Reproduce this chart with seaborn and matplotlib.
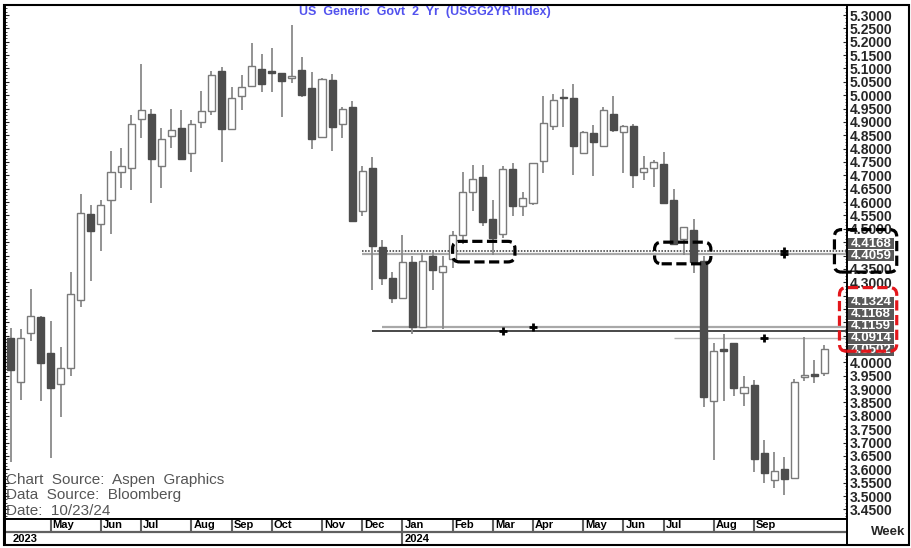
import numpy as np
import pandas as pd
import matplotlib
matplotlib.use("Agg")
import matplotlib.pyplot as plt
import seaborn as sns
from matplotlib.patches import FancyBboxPatch, Rectangle

# weekly candles, bars dated on the Monday
first_week = "2023-04-03"

opens = [4.090, 3.927, 4.111, 4.171, 4.035, 3.921, 3.978, 4.232, 4.556, 4.518,
         4.609, 4.711, 4.727, 4.911, 4.931, 4.736, 4.848, 4.878, 4.784, 4.901,
         4.942, 5.092, 4.873, 4.998, 5.036, 5.098, 5.089, 5.082, 5.064, 5.094,
         5.028, 4.845, 5.058, 4.892, 4.956, 4.566, 4.729, 4.433, 4.315, 4.241,
         4.374, 4.134, 4.397, 4.337, 4.388, 4.475, 4.637, 4.692, 4.537, 4.480,
         4.725, 4.585, 4.597, 4.755, 4.886, 4.991, 4.990, 4.784, 4.857, 4.810,
         4.928, 4.863, 4.886, 4.713, 4.726, 4.741, 4.609, 4.461, 4.496, 4.378,
         3.854, 4.052, 4.071, 3.885, 3.915, 3.661, 3.561, 3.600, 3.567, 3.947,
         3.955, 3.961]
highs = [4.127, 4.124, 4.276, 4.175, 4.155, 4.058, 4.340, 4.632, 4.590, 4.607,
         4.791, 4.804, 4.927, 5.117, 4.950, 4.876, 4.950, 4.943, 4.909, 5.017,
         5.089, 5.105, 5.032, 5.074, 5.197, 5.155, 5.178, 5.082, 5.261, 5.143,
         5.087, 5.064, 5.079, 4.956, 4.978, 4.734, 4.767, 4.457, 4.340, 4.477,
         4.397, 4.410, 4.414, 4.397, 4.492, 4.713, 4.739, 4.739, 4.607, 4.734,
         4.746, 4.636, 4.746, 4.998, 5.005, 5.023, 5.041, 4.867, 4.889, 4.956,
         4.997, 4.889, 4.892, 4.772, 4.759, 4.788, 4.649, 4.505, 4.537, 4.397,
         4.071, 4.105, 4.071, 3.950, 3.936, 3.711, 3.665, 3.645, 3.939, 4.095,
         4.010, 4.066]
lows = [3.629, 3.860, 4.080, 3.855, 3.641, 3.796, 3.949, 4.209, 4.304, 4.416,
        4.482, 4.651, 4.645, 4.838, 4.598, 4.651, 4.804, 4.759, 4.711, 4.878,
        4.924, 4.749, 4.873, 4.943, 5.036, 5.011, 5.011, 4.918, 5.045, 4.994,
        4.797, 4.845, 4.791, 4.838, 4.530, 4.548, 4.270, 4.289, 4.222, 4.241,
        4.108, 4.134, 4.270, 4.124, 4.353, 4.442, 4.566, 4.511, 4.403, 4.467,
        4.547, 4.547, 4.590, 4.708, 4.871, 4.880, 4.702, 4.784, 4.696, 4.810,
        4.861, 4.708, 4.651, 4.683, 4.655, 4.594, 4.442, 4.403, 4.334, 3.832,
        3.635, 3.857, 3.876, 3.837, 3.590, 3.548, 3.529, 3.502, 3.567, 3.931,
        3.922, 3.951]
closes = [3.972, 4.092, 4.175, 3.997, 3.904, 3.978, 4.257, 4.558, 4.492, 4.588,
          4.711, 4.736, 4.892, 4.943, 4.763, 4.835, 4.871, 4.762, 4.892, 4.942,
          5.077, 4.873, 4.988, 5.032, 5.111, 5.041, 5.082, 5.054, 5.070, 5.000,
          4.835, 5.061, 4.882, 4.947, 4.530, 4.717, 4.437, 4.315, 4.241, 4.374,
          4.134, 4.381, 4.344, 4.359, 4.475, 4.637, 4.685, 4.525, 4.467, 4.725,
          4.585, 4.616, 4.746, 4.895, 4.981, 4.988, 4.810, 4.863, 4.823, 4.943,
          4.870, 4.884, 4.701, 4.729, 4.749, 4.597, 4.442, 4.505, 4.376, 3.870,
          4.044, 4.044, 3.906, 3.908, 3.640, 3.587, 3.593, 3.563, 3.926, 3.953,
          3.948, 4.0502]

# horizontal levels and the week each one starts from
black_levels = [4.4168, 4.4059]
black_from = [35, 35]
red_levels = [4.1324, 4.1168, 4.1159, 4.0914]
red_from = [37, 36, 36, 66]
last_price = 4.0502

cross_week = [77, 77, 49, 52, 75]
cross_level = [4.4168, 4.4059, 4.1168, 4.1324, 4.0914]

title = "US  Generic  Govt  2  Yr  (USGG2YR'Index)"
source_lines = ["Chart  Source:  Aspen  Graphics", "Data  Source:  Bloomberg", "Date:  10/23/24"]

n = len(opens)
dates = pd.date_range(first_week, periods=n, freq="W-MON")
df = pd.DataFrame({"date": dates, "open": opens, "high": highs, "low": lows, "close": closes})
df["x"] = np.arange(n)
df["up"] = df["close"] >= df["open"]

sns.set_theme(style="white")
plt.rcParams["font.family"] = ["Liberation Sans", "DejaVu Sans"]

W, H = 911, 548
fig = plt.figure(figsize=(W / 100, H / 100), dpi=100)
ax = fig.add_axes([5 / W, 1 - 519 / H, (847 - 5) / W, (519 - 5) / H])
ax.set_xlim(-0.55, 83.25)
ax.set_ylim(3.414, 5.3375)
ypx = (ax.get_ylim()[1] - ax.get_ylim()[0]) / (519 - 5)   # data units per pixel
xpx = (ax.get_xlim()[1] - ax.get_xlim()[0]) / (847 - 5)

# candles
ax.vlines(df["x"], df["low"], df["high"], color="#8a8a8a", lw=1.3, zorder=2)
body_lo = df[["open", "close"]].min(axis=1)
body_h = (df["close"] - df["open"]).abs().clip(lower=0.004)
fills = np.where(df["up"], "white", "#4d4d4d")
edges = np.where(df["up"], "#7a7a7a", "#4d4d4d")
ax.bar(df["x"], body_h, bottom=body_lo, width=0.7, color=fills, edgecolor=edges, lw=1, zorder=3)

# level lines
xr = ax.get_xlim()[1]
ax.hlines(black_levels[0], black_from[0], xr, color="#333333", lw=1.1, ls=(0, (1, 1)), zorder=1)
ax.hlines(black_levels[1], black_from[1], xr, color="#a8a8a8", lw=1.6, zorder=1)
ax.hlines(red_levels[0], red_from[0], xr, color="#a8a8a8", lw=1.6, zorder=1)
ax.hlines(red_levels[1], red_from[1], xr, color="#b0b0b0", lw=1.2, zorder=1)
ax.hlines(red_levels[2], red_from[2], xr, color="#404040", lw=1.3, zorder=1)
ax.hlines(red_levels[3], red_from[3], xr, color="#b5b5b5", lw=1.0, zorder=1)

sns.scatterplot(x=cross_week, y=cross_level, marker="+", s=36, color="black",
                linewidth=2, ax=ax, zorder=5, legend=False)

# right axis
ticks = np.round(np.arange(3.45, 5.3001, 0.05), 2)
hidden = {4.45, 4.40, 4.25, 4.20, 4.15, 4.10, 4.05}
ax.set_yticks(ticks)
ax.set_yticklabels(["" if t in hidden else f"{t:.4f}" for t in ticks])
ax.yaxis.set_minor_locator(matplotlib.ticker.MultipleLocator(0.0125))
ax.tick_params(axis="y", which="both", left=True, right=True, direction="in",
               labelleft=False, labelright=True)
ax.tick_params(axis="y", which="major", length=3, width=0.8, labelsize=10, pad=2)
ax.tick_params(axis="y", which="minor", length=1.5, width=0.6)
for lab in ax.get_yticklabels():
    lab.set_fontweight("bold")
ax.set_xticks([])
ax.grid(False)
for s in ax.spines.values():
    s.set_color("black")
    s.set_linewidth(1.4)

# stacked price labels on the axis, dark backing blocks
step = 12 * ypx
ytr = ax.get_yaxis_transform()
def price_stack(values, base):
    for k, v in enumerate(sorted(values)):
        yc = base + k * step
        ax.add_patch(Rectangle((1.0008, yc - step / 2 + 0.5 * ypx), 0.055, step - ypx,
                               transform=ytr, fc="#595959", ec="none", clip_on=False, zorder=6))
        ax.text(1.004, yc, f"{v:.4f}", color="white", fontsize=9.5, fontweight="bold",
                va="center", ha="left", transform=ytr, clip_on=False, zorder=6.5)

price_stack(black_levels, min(black_levels) - 2 * ypx)
price_stack(red_levels + [last_price], last_price - 1.5 * ypx)

# dashed rounded boxes
asp = ypx / xpx
box_kw = dict(boxstyle="round,pad=0,rounding_size=0.7", mutation_aspect=asp,
              fill=False, lw=2.3, ls=(0, (3.2, 1.4)), zorder=7, clip_on=False)
for (x0, x1, y0, y1, c) in [(44.0, 50.2, 4.376, 4.453, "black"),
                            (64.1, 69.7, 4.369, 4.450, "black"),
                            (82.0, 88.2, 4.338, 4.497, "black"),
                            (82.5, 88.2, 4.042, 4.280, "#e3161b")]:
    ax.add_patch(FancyBboxPatch((x0, y0), x1 - x0, y1 - y0, ec=c, **box_kw))

# date band
bx = fig.add_axes([5 / W, 1 - 545 / H, (847 - 5) / W, (545 - 519) / H])
bx.set_xlim(ax.get_xlim())
bx.set_ylim(0, 2)
bx.set_xticks([])
bx.set_yticks([])
for s in bx.spines.values():
    s.set_color("black")
    s.set_linewidth(1.4)
bx.axhline(1, color="#606060", lw=1.6)
months = df["date"].dt.to_period("M")
m_start = df.index[months != months.shift()].tolist()[1:-1]
bx.vlines(m_start, 1, 2, color="#606060", lw=1.5)
for i in m_start:
    bx.text(i + 0.2, 1.5, df["date"][i].strftime("%b"), fontsize=8, fontweight="bold",
            ha="left", va="center", color="black")
years = df["date"].dt.year
y_start = df.index[years != years.shift()].tolist()
for i in y_start:
    if i > 0:
        bx.vlines(i, 0, 1, color="#606060", lw=1.5)
    bx.text(max(i, 0) + 0.2, 0.5, str(df["date"][i].year), fontsize=8, fontweight="bold",
            ha="left", va="center", color="black")

# texts
fig.text(425 / W, 1 - 12 / H, title, color="#5252ee", fontsize=9, fontweight="bold",
         ha="center", va="center")
for k, line in enumerate(source_lines):
    fig.text(6 / W, 1 - (480 + 15.5 * k) / H, line, color="#555555", fontsize=11,
             ha="left", va="center")
fig.text(888 / W, 1 - 532 / H, "Week", fontsize=9.5, fontweight="bold", ha="center", va="center")

fig.patches.append(Rectangle((4 / W, 1 - 545 / H), (909 - 4) / W, (545 - 5) / H,
                             transform=fig.transFigure, fill=False, ec="black", lw=1.5))

fig.savefig("out.png", dpi=100)
